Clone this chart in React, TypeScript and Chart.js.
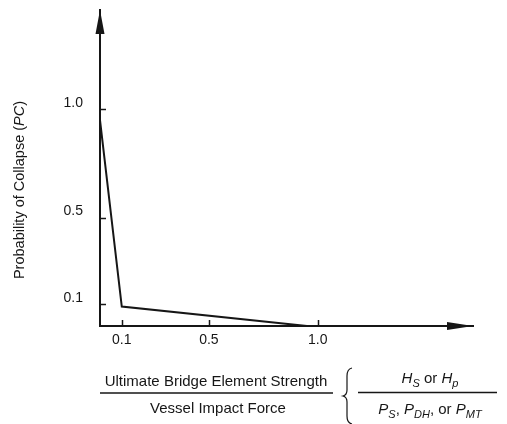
import React, { useEffect, useRef } from "react";
import { Chart, registerables } from "chart.js";

Chart.register(...registerables);

// Data
const xTickValues = [0.1, 0.5, 1.0];
const yTickValues = [0.1, 0.5, 1.0];
const strengthRatio = [0, 0.1, 0.95];
const collapseProbability = [0.95, 0.09, 0];

const yTitleParts = [
  { text: "Probability of Collapse (", italic: false },
  { text: "PC", italic: true },
  { text: ")", italic: false },
];
const leftNumerator = "Ultimate Bridge Element Strength";
const leftDenominator = "Vessel Impact Force";
const rightNumerator = [
  { text: "H", italic: true, sub: false },
  { text: "S", italic: true, sub: true },
  { text: " or ", italic: false, sub: false },
  { text: "H", italic: true, sub: false },
  { text: "p", italic: true, sub: true },
];
const rightDenominator = [
  { text: "P", italic: true, sub: false },
  { text: "S", italic: true, sub: true },
  { text: ", ", italic: false, sub: false },
  { text: "P", italic: true, sub: false },
  { text: "DH", italic: true, sub: true },
  { text: ", or ", italic: false, sub: false },
  { text: "P", italic: true, sub: false },
  { text: "MT", italic: true, sub: true },
];

const FONT = '"Liberation Sans", Arial, Helvetica, sans-serif';
const INK = "#161616";

type Part = { text: string; italic?: boolean; sub?: boolean };

function partFont(p: Part, size: number) {
  const s = p.sub ? Math.round(size * 0.7) : size;
  return `${p.italic ? "italic " : ""}${s}px ${FONT}`;
}

function drawRich(ctx: CanvasRenderingContext2D, parts: Part[], cx: number, baseline: number, size: number) {
  let total = 0;
  for (const p of parts) {
    ctx.font = partFont(p, size);
    total += ctx.measureText(p.text).width;
  }
  let x = cx - total / 2;
  ctx.textAlign = "left";
  ctx.textBaseline = "alphabetic";
  for (const p of parts) {
    ctx.font = partFont(p, size);
    ctx.fillText(p.text, x, baseline + (p.sub ? size * 0.28 : 0));
    x += ctx.measureText(p.text).width;
  }
}

const decorPlugin = {
  id: "decor",
  afterDraw(chart: any) {
    const ctx: CanvasRenderingContext2D = chart.ctx;
    const area = chart.chartArea;
    const xs = chart.scales.x;
    const ys = chart.scales.y;
    ctx.save();
    ctx.strokeStyle = INK;
    ctx.fillStyle = INK;
    ctx.lineWidth = 1.5;
    // inward tick marks
    for (const v of xTickValues) {
      const px = Math.round(xs.getPixelForValue(v)) + 0.5;
      ctx.beginPath();
      ctx.moveTo(px, area.bottom);
      ctx.lineTo(px, area.bottom - 6);
      ctx.stroke();
    }
    for (const v of yTickValues) {
      const py = Math.round(ys.getPixelForValue(v)) + 0.5;
      ctx.beginPath();
      ctx.moveTo(area.left, py);
      ctx.lineTo(area.left + 6, py);
      ctx.stroke();
    }
    // arrow heads
    ctx.beginPath();
    ctx.moveTo(area.left, area.top);
    ctx.lineTo(area.left - 4.5, area.top + 24);
    ctx.lineTo(area.left + 4.5, area.top + 24);
    ctx.closePath();
    ctx.fill();
    ctx.beginPath();
    ctx.moveTo(area.right, area.bottom);
    ctx.lineTo(area.right - 26, area.bottom - 4);
    ctx.lineTo(area.right - 26, area.bottom + 4);
    ctx.closePath();
    ctx.fill();

    // y axis title
    ctx.save();
    ctx.translate(19, 190);
    ctx.rotate(-Math.PI / 2);
    drawRich(ctx, yTitleParts, 0, 5, 14.5);
    ctx.restore();

    // left fraction
    ctx.font = `15px ${FONT}`;
    ctx.textAlign = "center";
    ctx.textBaseline = "alphabetic";
    ctx.fillText(leftNumerator, 216, 386);
    ctx.fillText(leftDenominator, 218, 413);
    ctx.lineWidth = 1.5;
    ctx.beginPath();
    ctx.moveTo(100, 393);
    ctx.lineTo(333, 393);
    ctx.stroke();

    // brace
    ctx.lineWidth = 1.2;
    ctx.beginPath();
    ctx.moveTo(352, 368);
    ctx.quadraticCurveTo(347, 369, 347, 376);
    ctx.lineTo(347, 390);
    ctx.quadraticCurveTo(347, 395, 343, 396);
    ctx.quadraticCurveTo(347, 397, 347, 402);
    ctx.lineTo(347, 416);
    ctx.quadraticCurveTo(347, 423, 352, 424);
    ctx.stroke();

    // right fraction
    ctx.lineWidth = 1.5;
    ctx.beginPath();
    ctx.moveTo(358, 392.5);
    ctx.lineTo(497, 392.5);
    ctx.stroke();
    drawRich(ctx, rightNumerator, 430, 383, 15);
    drawRich(ctx, rightDenominator, 430, 414, 15);
    ctx.restore();
  },
};

export default function App() {
  const ref = useRef<HTMLCanvasElement | null>(null);
  useEffect(() => {
    document.body.style.margin = "0";
    const canvas = ref.current;
    if (!canvas) return;
    const points = strengthRatio.map((x, i) => ({ x, y: collapseProbability[i] }));
    const chart = new Chart(canvas, {
      type: "line",
      data: {
        datasets: [
          {
            data: points,
            borderColor: INK,
            borderWidth: 2,
            pointRadius: 0,
            tension: 0,
            fill: false,
          },
        ],
      },
      options: {
        animation: false,
        responsive: false,
        layout: { padding: { left: 0, top: 10, right: 34, bottom: 0 } },
        plugins: { legend: { display: false }, tooltip: { enabled: false } },
        scales: {
          x: {
            type: "linear",
            min: 0,
            max: 1.7126,
            afterFit: (s: any) => {
              s.height = 98;
              s.paddingLeft = 0;
              s.paddingRight = 0;
            },
            afterBuildTicks: (s: any) => {
              s.ticks = xTickValues.map((v) => ({ value: v }));
            },
            grid: { display: false, drawTicks: false },
            border: { display: true, color: INK, width: 2 },
            ticks: {
              padding: 6,
              color: INK,
              font: { family: FONT, size: 14 },
              maxRotation: 0,
              autoSkip: false,
              callback: (v: any) => Number(v).toFixed(1),
            },
          },
          y: {
            type: "linear",
            min: 0,
            max: 1.458,
            afterFit: (s: any) => {
              s.width = 100;
              s.paddingTop = 0;
              s.paddingBottom = 0;
            },
            afterBuildTicks: (s: any) => {
              s.ticks = yTickValues.map((v) => ({ value: v }));
            },
            grid: { display: false, drawTicks: false },
            border: { display: true, color: INK, width: 2 },
            ticks: {
              padding: 17,
              labelOffset: -6,
              color: INK,
              font: { family: FONT, size: 14 },
              autoSkip: false,
              callback: (v: any) => Number(v).toFixed(1),
            },
          },
        },
      },
      plugins: [decorPlugin],
    });
    return () => chart.destroy();
  }, []);
  return (
    <div style={{ width: 507, height: 424, background: "#fff" }}>
      <canvas ref={ref} width={507} height={424} />
    </div>
  );
}
